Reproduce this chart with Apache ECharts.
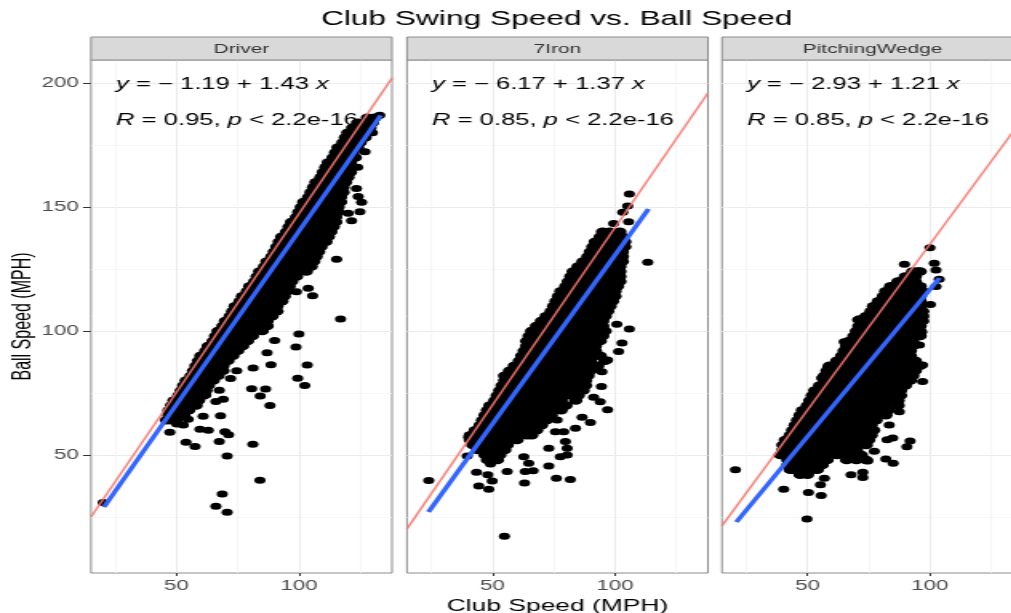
<!DOCTYPE html>
<html><head><meta charset="utf-8">
<style>html,body{margin:0;padding:0;background:#fff;overflow:hidden}
#c{width:632px;height:613px;transform-origin:0 0;transform:scaleX(1.6)}</style>
<script src="https://cdn.jsdelivr.net/npm/echarts@6/dist/echarts.min.js"></script>
</head><body><div id="c"></div>
<script>
const panels=['Driver','7Iron','PitchingWedge'];
const chartTitle='Club Swing Speed vs. Ball Speed';
const xName='Club Speed (MPH)', yName='Ball Speed (MPH)';
const xMajor=[50,100], xMinor=[25,75,125];
const yMajor=[50,100,150,200], yMinor=[25,75,125,175];
const eqs=['{i|y} = \u2212 1.19 + 1.43 {i|x}','{i|y} = \u2212 6.17 + 1.37 {i|x}','{i|y} = \u2212 2.93 + 1.21 {i|x}'];
const cors=['{i|R} = 0.95, {i|p} < 2.2e-16','{i|R} = 0.85, {i|p} < 2.2e-16','{i|R} = 0.85, {i|p} < 2.2e-16'];
const fitBlue=[[[20.4,29],[133.4,187]],[[23.9,27],[113.7,149.2]],[[21,23],[103.9,121.4]]];
const refRed=[[[15.1,25],[138,202]],[[15.1,20.2],[138,196]],[[15.1,21.4],[138,185.8]]];
// rows: ball speed, then club speeds
const driverRows=[
[64,46,48,50],[66,47,50,53],[68,47,49,53,55],[70,48,52,56,58],[72,49,51,55,59],[74,51,53,57,61],[76,52,56,60,62],[78,53,55,59,63],
[80,54,58,62,65],[82,56,60,64,67],[84,57,58,62,66,69],[86,58,60,64,68,69],[88,59,62,66,70,71],[90,60,64,68,72,73],[92,62,66,70,74,75],[94,63,64,68,72,76,77],
[96,65,66,70,74,78,79],[98,66,68,72,76,80,81],[100,67,70,74,78,82,85],[102,69,72,76,80,84,87],[104,70,74,78,82,86,87],[106,72,76,80,84,88,89],[108,73,74,78,82,86,90,91],[110,74,76,80,84,88,91],
[112,76,78,82,86,90,93],[114,77,80,84,88,92,94],[116,79,80,84,88,92,95],[118,80,82,86,90,94,96],[120,82,84,88,92,96,97],[122,83,86,90,94,98,99],[124,84,88,92,96,100,103],[126,86,90,94,98,102,105],
[128,87,88,92,96,100,104,106],[130,89,90,94,98,102,106,107],[132,90,92,96,100,104,108],[134,91,94,98,102,106,109],[136,92,96,100,104,108,111],[138,93,94,98,102,106,110,112],[140,95,96,100,104,108,112,113],[142,96,98,102,106,110,114],
[144,97,100,104,108,112,115],[146,99,102,106,110,114,115],[148,100,104,108,112,116],[150,101,102,106,110,114,116],[152,102,104,108,112,116,117],[154,104,106,110,114,117],[156,105,108,112,116,118],[158,106,110,114,118],
[160,107,108,112,116,119],[162,109,110,114,118,120],[164,110,112,116,120,121],[166,111,114,118,121],[168,112,116,120,121],[170,114,118,122,123],[172,115,116,120,122],[174,116,118,122,124],
[176,118,120,124,125],[178,119,122,126,127],[180,120,124,128],[182,122,126,129],[184,124,128,130],[186,128,131]];
const driverOut=[[117,104.8],[100,98.8],[98.8,93.5],[103.4,86.3],[99.5,80.9],[102.4,78],[88.6,86.4],[81.3,85.1],[87,91.2],[90.1,96.2],[80.7,76.7],[86.4,76.6],[84.2,73.8],[88.2,70],[81.2,54.3],[84.1,39.8],[70.7,49.6],[68.7,34.3],[66.1,29.3],[70.7,26.9],[20.1,30.8],[67.5,55.4],[57.6,53.4],[53.9,55.1],[47.3,59.2],[59.6,60.4],[63,60],[69.8,59.4],[71.3,58.2],[68,65.8],[60.9,65.6],[54.8,64.4],[50.1,62.5],[52.8,62.1],[66.1,71.6],[69.1,72.5],[67.5,76.1],[62,74.2],[72.1,80.8],[74.6,84],[123.5,157.5],[124.2,154.2],[125.6,151.9],[124.9,148.1],[120.1,147.5],[121.5,144.5],[115.4,128.9],[103.8,117.2],[105.6,114.2],[99,115.8],[127,172.3],[124,166],[133,187],[130,180]];
const ironRows=[
[48,48,50,52],[50,47,50,53],[52,44,46,50,54,55],[54,42,44,48,52,56],[56,41,42,46,50,54,58,60],[58,41,44,48,52,56,60,64,66],[60,43,46,50,54,58,62,66,68],[62,45,48,52,56,60,64,68,70],
[64,46,50,54,58,62,66,70,72],[66,47,48,52,56,60,64,68,72,74],[68,48,50,54,58,62,66,70,74,78],[70,49,52,56,60,64,68,72,76,80],[72,51,54,58,62,66,70,74,78,84],[74,52,56,60,64,68,72,76,80,84,85],[76,53,54,58,62,66,70,74,78,82,87],[78,54,56,60,64,68,72,76,80,84,88],
[80,55,58,62,66,70,74,78,82,86,88],[82,55,56,60,64,68,72,76,80,84,88,89],[84,57,58,62,66,70,74,78,82,86,90],[86,59,60,64,68,72,76,80,84,88,93],[88,61,62,66,70,74,78,82,86,90,96],[90,62,64,68,72,76,80,84,88,92,94],[92,63,66,70,74,78,82,86,90,92],[94,64,68,72,76,80,84,88,92],
[96,64,66,70,74,78,82,86,90,94],[98,65,68,72,76,80,84,88,92,95],[100,66,70,74,78,82,86,90,94,96],[102,68,72,76,80,84,88,92,95],[104,70,74,78,82,86,90,94,95],[106,72,76,80,84,88,92,96],[108,74,78,82,86,90,94,97],[110,75,76,80,84,88,92,96,98],
[112,76,78,82,86,90,94,98,99],[114,77,80,84,88,92,96,100],[116,78,82,86,90,94,98,100],[118,80,84,88,92,96,100,101],[120,81,82,86,90,94,98,102],[122,82,84,88,92,96,100,102],[124,83,86,90,94,98,102],[126,85,88,92,96,100,102],
[128,87,90,94,98,102,103],[130,89,92,96,100,103],[132,90,94,98,102,103],[134,91,92,96,100,104],[136,92,94,98,102,104],[138,94,96,100,103],[140,95,98,102]];
const ironOut=[[105.9,155.3],[105.2,150.4],[103.2,147.9],[105.6,144.1],[99.5,143.4],[113.4,127.7],[105.9,100.8],[100.8,102.7],[102.9,95.2],[101.5,91.7],[94.7,83.6],[97,88.3],[94.5,77.6],[97,68.2],[94,71.5],[91.3,73.3],[90,63.1],[24,39.7],[54.9,17.2],[76.1,40.6],[81.8,40.1],[63.1,38.7],[48.5,36.2],[44.4,37.5],[49.9,39.5],[43.5,43],[48.1,42],[56,43.3],[63.4,43.3],[66.6,43.6],[73,45.6],[64.8,46.7],[49.2,46.4],[39.7,49.6],[77.7,49.3],[80.5,50],[62.8,49.3],[73,52.7],[79.8,55.4],[80.5,52.7],[40.3,57.1],[75.7,59.4],[79.1,59.4],[83.9,60.8],[86.6,65.2],[76.4,64.1]];
const wedgeRows=[
[42,47,50],[44,43,44,48,52,54],[46,42,46,50,54,56],[48,42,44,48,52,56,58,66,70,74],[50,39,42,46,50,54,58,62,66,70,72],[52,40,44,48,52,56,60,64,68,70],[54,40,42,46,50,54,58,62,66,70,74],[56,41,44,48,52,56,60,64,68,72,75],
[58,43,46,50,54,58,62,66,70,74,76],[60,44,48,52,56,60,64,68,72,76,77],[62,45,46,50,54,58,62,66,70,74,76],[64,46,48,52,56,60,64,68,72,76,78],[66,47,50,54,58,62,66,70,74,78,82],[68,48,52,56,60,64,68,72,76,80,83],[70,50,54,58,62,66,70,74,78,82,87],[72,51,52,56,60,64,68,72,76,80,84,87],
[74,52,54,58,62,66,70,74,78,82,86,88],[76,53,56,60,64,68,72,76,80,84,88],[78,55,58,62,66,70,74,78,82,86,90],[80,57,60,64,68,72,76,80,84,88,92],[82,57,58,62,66,70,74,78,82,86,90,93],[84,58,60,64,68,72,76,80,84,88,92,94],[86,59,62,66,70,74,78,82,86,90,94,96],[88,62,64,68,72,76,80,84,88,92,94],
[90,64,66,70,74,78,82,86,90,92],[92,65,68,72,76,80,84,88,92],[94,66,70,74,78,82,86,90,93],[96,67,68,72,76,80,84,88,92,93],[98,69,70,74,78,82,86,90,94,96],[100,70,72,76,80,84,88,92,96],[102,71,74,78,82,86,90,94,96],[104,72,76,80,84,88,92,96,97],
[106,74,78,82,86,90,94,97],[108,76,80,84,88,92,96,97],[110,77,78,82,86,90,94,96],[112,79,80,84,88,92,96],[114,81,82,86,90,94,96],[116,82,84,88,92,96,97],[118,84,86,90,94,96],[120,87,88,92,94],[122,90,92,94],[124,93,95,96]];
const wedgeOut=[[100,133.6],[89.6,126.9],[101.8,127.3],[102.5,124.6],[103.8,120.9],[102.5,117.9],[100.2,110.7],[96.6,99.5],[95.7,94.4],[97,86.3],[97,79.6],[87.5,67.4],[83.4,62.1],[91.9,55.6],[90.6,53.3],[84.8,56.8],[82.5,56.1],[77.3,51.5],[82,48.4],[85,46.7],[72.6,43],[72.6,40.9],[67.8,42],[56.9,40.6],[55.3,38],[55.6,33.7],[50.4,34.9],[40.3,36.2],[49.8,24.2],[20.6,44],[74.6,47.6],[70.5,104.5],[71.2,104.9],[65,95.7],[58.3,85.3],[55.8,81]];

const S=1.6, FF='"Liberation Sans"';
const leftPx=[91,407,722], panelW=301;
const xMin=15.1,xMax=138,yMin=2.4,yMax=209.3;
const toPts=rows=>{const p=[];rows.forEach(r=>{for(let i=1;i<r.length;i++)p.push([r[i],r[0]]);});return p;};
const bodies=[toPts(driverRows),toPts(ironRows),toPts(wedgeRows)];
const strays=[driverOut,ironOut,wedgeOut];
const grid=[],xAxis=[],yAxis=[],series=[],graphic=[],title=[];
title.push({text:chartTitle,left:348,top:10,padding:0,textAlign:'center',textStyle:{fontFamily:FF,fontSize:19.8,fontWeight:'normal',color:'#000'}});
const major={show:true,lineStyle:{color:'#ebebeb',width:1}}, minor={show:true,lineStyle:{color:'#f3f3f3',width:0.7}};
panels.forEach((p,i)=>{
  const L=leftPx[i]/S,W=panelW/S;
  grid.push({left:L,top:60,width:W,height:513,outerBoundsMode:'none',containLabel:false,show:true,borderColor:'#8c8c8c',borderWidth:1,backgroundColor:'#fff'});
  const bx={type:'value',gridIndex:i,min:xMin,max:xMax,position:'bottom',axisLine:{show:false}};
  const by={type:'value',gridIndex:i,min:yMin,max:yMax,position:'left',axisLine:{show:false}};
  xAxis.push({...bx,splitLine:major,axisTick:{show:true,length:3,customValues:xMajor,lineStyle:{color:'#333'}},
    axisLabel:{show:true,customValues:xMajor,fontFamily:FF,fontSize:14,color:'#4d4d4d',margin:6},
    name:i===1?xName:'',nameLocation:'middle',nameGap:21,nameTextStyle:{fontFamily:FF,fontSize:16.5,color:'#000'}});
  yAxis.push({...by,splitLine:major,axisTick:{show:i===0,length:5,customValues:yMajor,lineStyle:{color:'#333'}},
    axisLabel:{show:i===0,customValues:yMajor,fontFamily:FF,fontSize:14,color:'#4d4d4d',margin:7.5},
    name:i===0?yName:'',nameLocation:'middle',nameGap:33,nameTextStyle:{fontFamily:FF,fontSize:16,color:'#000'}});
  xAxis.push({...bx,splitLine:minor,axisTick:{show:false,customValues:xMinor},axisLabel:{show:false}});
  yAxis.push({...by,splitLine:minor,axisTick:{show:false,customValues:yMinor},axisLabel:{show:false}});
  const xi=i*2,yi=i*2;
  series.push({type:'scatter',xAxisIndex:xi,yAxisIndex:yi,data:bodies[i],symbol:'circle',symbolSize:8.5,itemStyle:{color:'#000',opacity:1},silent:true,z:3});
  series.push({type:'scatter',xAxisIndex:xi,yAxisIndex:yi,data:strays[i],symbol:'circle',symbolSize:7,itemStyle:{color:'#000',opacity:1},silent:true,z:3});
  series.push({type:'line',xAxisIndex:xi,yAxisIndex:yi,data:fitBlue[i],showSymbol:false,lineStyle:{color:'#3366ff',width:3.2,cap:'butt'},silent:true,z:4});
  series.push({type:'line',xAxisIndex:xi,yAxisIndex:yi,data:refRed[i],showSymbol:false,lineStyle:{color:'rgba(248,118,109,0.9)',width:1.5},silent:true,z:5});
  graphic.push({type:'rect',shape:{x:L,y:37,width:W,height:23},style:{fill:'#d9d9d9',stroke:'#8c8c8c',lineWidth:1},z:1});
  title.push({text:p,left:L+W/2,top:43,padding:0,textAlign:'center',textStyle:{fontFamily:FF,fontSize:13,fontWeight:'normal',color:'#333'}});
  const rich={i:{fontStyle:'italic',fontFamily:FF,fontSize:16,fill:'#000',color:'#000'}};
  const tx=(leftPx[i]+25)/S;
  graphic.push({type:'text',x:tx,y:85,z:2,style:{text:eqs[i],rich,fontFamily:FF,fontSize:16,fill:'#000',verticalAlign:'middle'}});
  graphic.push({type:'text',x:tx,y:121,z:2,style:{text:cors[i],rich,fontFamily:FF,fontSize:16,fill:'#000',verticalAlign:'middle'}});
});
const chart=echarts.init(document.getElementById('c'),null,{renderer:'canvas',width:632,height:613});
chart.setOption({animation:false,backgroundColor:'#fff',title,grid,xAxis,yAxis,series,graphic});
</script></body></html>
